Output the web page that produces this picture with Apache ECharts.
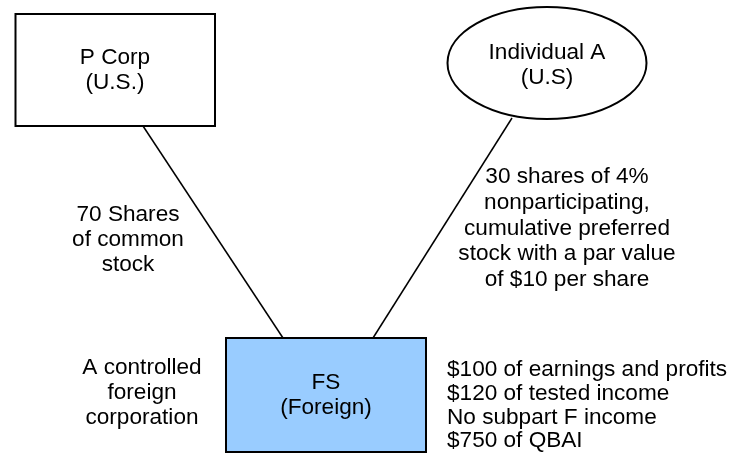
<!DOCTYPE html>
<html>
<head>
<meta charset="utf-8">
<script src="https://cdn.jsdelivr.net/npm/echarts@6/dist/echarts.min.js"></script>
<style>
html,body{margin:0;padding:0;background:#fff;}
#c{width:729px;height:453px;}
</style>
</head>
<body>
<div id="c"></div>
<script>
// Diagram content
var parentLabel = ['P Corp', '(U.S.)'];
var individualLabel = ['Individual A', '(U.S)'];
var subsidiaryLabel = ['FS', '(Foreign)'];
var commonStockLabel = ['70 Shares', 'of common', 'stock'];
var preferredStockLabel = ['30 shares of 4%', 'nonparticipating,', 'cumulative preferred', 'stock with a par value', 'of $10 per share'];
var cfcLabel = ['A controlled', 'foreign', 'corporation'];
var fsFacts = ['$100 of earnings and profits', '$120 of tested income', 'No subpart F income', '$750 of QBAI'];

var FONT = '"Liberation Sans", Arial, sans-serif';
var FS = 22.6;

function txt(lines, x, y, align, lh, vAlign) {
  return {
    type: 'text',
    x: x, y: y,
    style: {
      text: lines.join('\n'),
      font: FS + 'px ' + FONT,
      fill: '#000',
      textAlign: align || 'center',
      textVerticalAlign: vAlign || 'middle',
      lineHeight: lh || 25
    },
    z: 10
  };
}

var chart = echarts.init(document.getElementById('c'), null, {renderer: 'canvas'});
chart.setOption({
  backgroundColor: '#fff',
  animation: false,
  graphic: [
    {type: 'line', shape: {x1: 143, y1: 126, x2: 283, y2: 338}, style: {stroke: '#000', lineWidth: 1.5}},
    {type: 'line', shape: {x1: 512, y1: 118, x2: 373, y2: 338}, style: {stroke: '#000', lineWidth: 1.5}},
    {type: 'rect', shape: {x: 15.5, y: 14, width: 199.5, height: 112}, style: {fill: '#fff', stroke: '#000', lineWidth: 2}},
    {type: 'ellipse', shape: {cx: 547, cy: 63, rx: 99.5, ry: 56}, style: {fill: '#fff', stroke: '#000', lineWidth: 2}},
    {type: 'rect', shape: {x: 226, y: 338, width: 200, height: 114}, style: {fill: '#99ccff', stroke: '#000', lineWidth: 2}},
    txt(parentLabel, 115, 70, 'center', 25),
    txt(individualLabel, 547, 65, 'center', 25),
    txt(subsidiaryLabel, 326, 395.5, 'center', 25),
    txt(commonStockLabel, 128, 240, 'center', 25),
    txt(preferredStockLabel, 567, 228.5, 'center', 25.7),
    txt(cfcLabel, 142, 393, 'center', 25),
    txt(fsFacts, 447, 405.5, 'left', 23.7)
  ]
});
</script>
</body>
</html>
